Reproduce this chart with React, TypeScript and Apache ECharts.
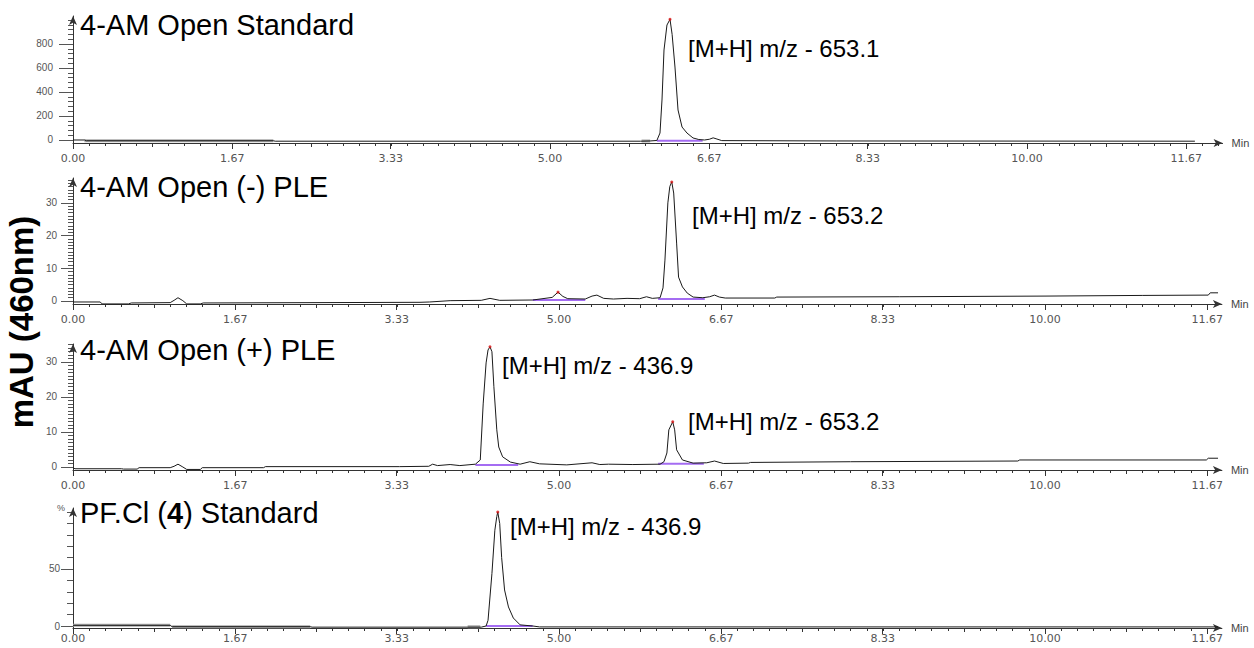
import React, { useEffect, useRef } from "react";
import * as echarts from "echarts";

// ---------------- data ----------------
const xTickLabels = ["0.00", "1.67", "3.33", "5.00", "6.67", "8.33", "10.00", "11.67"];
const xTickValues = xTickLabels.map(Number);

const p1YTicks = [0, 200, 400, 600, 800];
const p2YTicks = [0, 10, 20, 30];
const p3YTicks = [0, 10, 20, 30];
const p4YTicks = [0, 50];

const titles = ["4-AM Open Standard", "4-AM Open (-) PLE", "4-AM Open (+) PLE", "PF.Cl ({b|4}) Standard"];
const annotationTexts = [
  "[M+H] m/z - 653.1",
  "[M+H] m/z - 653.2",
  "[M+H] m/z - 436.9",
  "[M+H] m/z - 653.2",
  "[M+H] m/z - 436.9",
];
const yAxisTitle = "mAU (460nm)";

// traces: [time (min), signal]
const p1Trace: number[][] = [
  [0, 0], [0.12, 0], [0.14, -6], [2.1, -6], [2.12, -10], [5.95, -10], [6.05, -8], [6.12, -4],
  [6.153, 58], [6.174, 333], [6.195, 750], [6.226, 958], [6.258, 1005], [6.28, 880], [6.31, 608],
  [6.342, 250], [6.384, 108], [6.436, 58], [6.499, 17], [6.56, 4], [6.62, 0], [6.67, 6], [6.71, 18],
  [6.75, 8], [6.8, -5], [8.0, -8], [11.76, -10],
];
const p2Trace: number[][] = [
  [0, -0.3], [0.28, -0.3], [0.3, -0.9], [0.57, -0.9], [0.6, -0.6], [1.0, -0.5], [1.04, 0.2], [1.08, 1.0],
  [1.13, 0.1], [1.17, -0.9], [1.31, -0.9], [1.34, -0.6], [2.5, -0.5], [3.57, -0.4], [3.67, -0.3],
  [3.88, 0.1], [4.2, 0.2], [4.29, 0.8], [4.39, 0.2], [4.73, 0.3], [4.93, 1.1], [4.99, 2.7], [5.04, 1.4],
  [5.09, 0.7], [5.27, 0.6], [5.34, 1.5], [5.39, 1.8], [5.46, 0.8], [5.56, 0.6], [5.7, 0.8], [5.83, 0.7],
  [5.9, 1.3], [5.96, 0.8], [6.04, 1.0], [6.07, 4], [6.09, 12.5], [6.12, 30], [6.14, 35], [6.16, 36.4],
  [6.18, 33], [6.21, 17.7], [6.23, 7.3], [6.27, 4.3], [6.32, 2.4], [6.38, 1.2], [6.48, 1.0], [6.55, 1.3],
  [6.6, 1.8], [6.65, 1.2], [6.71, 0.9], [7.22, 0.9], [7.24, 1.2], [8.5, 1.3], [10.0, 1.5], [11.0, 1.7],
  [11.68, 1.8], [11.7, 2.5], [11.78, 2.5],
];
const p3Trace: number[][] = [
  [0, -0.2], [0.02, -0.5], [0.5, -0.5], [0.52, -0.6], [0.66, -0.6], [0.68, -0.2], [1.0, -0.2], [1.04, 0.2],
  [1.08, 0.8], [1.13, 0.0], [1.17, -0.7], [1.31, -0.7], [1.33, -0.2], [1.96, -0.2], [1.98, 0.1],
  [3.36, 0.1], [3.66, 0.2], [3.7, 0.8], [3.75, 0.4], [3.88, 0.7], [3.98, 0.4], [4.14, 0.8], [4.19, 2],
  [4.22, 18], [4.25, 29.7], [4.27, 33.4], [4.29, 34.3], [4.31, 32.9], [4.33, 22.9], [4.36, 10.6],
  [4.38, 5.7], [4.42, 2.9], [4.5, 1.4], [4.6, 0.8], [4.7, 1.5], [4.8, 0.9], [5.08, 0.6], [5.34, 1.2],
  [5.42, 0.7], [5.51, 0.8], [5.76, 0.7], [6.04, 0.8], [6.08, 1.5], [6.11, 4], [6.13, 10.6], [6.17, 12.9],
  [6.19, 10.6], [6.21, 4.9], [6.27, 2], [6.38, 1.1], [6.52, 1.2], [6.6, 1.7], [6.69, 1.0], [6.95, 1.1],
  [6.97, 1.3], [8.0, 1.5], [9.72, 1.7], [9.74, 2.0], [11.66, 2.0], [11.68, 2.5], [11.78, 2.5],
];
const p4Trace: number[][] = [
  [0, 0.6], [1.0, 0.6], [1.02, -0.6], [2.44, -0.6], [2.46, -1.0], [4.2, -1.0], [4.25, 0], [4.27, 5],
  [4.31, 46], [4.34, 84], [4.36, 96], [4.37, 100], [4.39, 90], [4.41, 60], [4.44, 31.6], [4.48, 16.7],
  [4.53, 7], [4.6, 1], [4.73, 0], [4.8, -0.8], [11.78, -0.8],
];

// peak apex markers
const p1Apex = [[6.258, 1005]];
const p2Apex = [[4.99, 2.7], [6.16, 36.4]];
const p3Apex = [[4.29, 34.3], [6.17, 12.9]];
const p4Apex = [[4.37, 100]];

// integration baselines [start, end, level]
const p1Integ = [[6.12, 6.6, -6]];
const p2Integ = [[4.73, 5.27, 0.3], [6.02, 6.5, 0.6]];
const p3Integ = [[4.14, 4.58, 0.6], [6.02, 6.49, 0.9]];
const p4Integ = [[4.25, 4.73, 0]];

// gray baseline bands [start, end, level]
const p1Gray = [[0.12, 2.1, -6], [5.96, 6.05, -8]];
const p2Gray: number[][] = [];
const p3Gray: number[][] = [];
const p4Gray = [[0, 1.0, 0.6], [1.02, 2.44, -0.6], [4.06, 4.19, -0.6]];

const panels = [
  { trace: p1Trace, apex: p1Apex, integ: p1Integ, gray: p1Gray, yTicks: p1YTicks },
  { trace: p2Trace, apex: p2Apex, integ: p2Integ, gray: p2Gray, yTicks: p2YTicks },
  { trace: p3Trace, apex: p3Apex, integ: p3Integ, gray: p3Gray, yTicks: p3YTicks },
  { trace: p4Trace, apex: p4Apex, integ: p4Integ, gray: p4Gray, yTicks: p4YTicks },
];

// ---------------- layout ----------------
const LEFT = 73;
const layout = [
  { top: 16, height: 127, xMax: 12.05, pxPerMin: 95.4, yMin: -25, yMax: 1033, yMinorStep: 40, yMinorTop: 1000, labelMargin: 20, majorTick: 14, minorTick: 5, titleY: 25, xLabelMargin: 10 },
  { top: 178, height: 126, xMax: 11.82, pxPerMin: 97.2, yMin: -0.92, yMax: 37.6, yMinorStep: 1, yMinorTop: 37, labelMargin: 16, majorTick: 12, minorTick: 5, titleY: 187, xLabelMargin: 10 },
  { top: 344, height: 126, xMax: 11.82, pxPerMin: 97.2, yMin: -0.86, yMax: 35.1, yMinorStep: 1, yMinorTop: 35, labelMargin: 16, majorTick: 12, minorTick: 5, titleY: 350, xLabelMargin: 10 },
  { top: 508, height: 120, xMax: 11.82, pxPerMin: 97.2, yMin: -1.75, yMax: 103.5, yMinorStep: 10, yMinorTop: 100, labelMargin: 13, majorTick: 12, minorTick: 6, titleY: 513, xLabelMargin: 5 },
];
const annotationPos = [
  { panel: 0, x: 688, y: 48 },
  { panel: 1, x: 692, y: 215 },
  { panel: 2, x: 502, y: 365 },
  { panel: 2, x: 688, y: 421 },
  { panel: 3, x: 510, y: 526 },
];

const FONT = "'Liberation Sans', Arial, sans-serif";
const NARROW = "'Liberation Sans Narrow', 'Liberation Sans', Arial, sans-serif";
const AXIS_COLOR = "#333";
const LABEL_COLOR = "#555";

function range(start: number, end: number, step: number): number[] {
  const out: number[] = [];
  const n = Math.floor((end - start) / step + 1e-9);
  for (let k = 0; k <= n; k++) out.push(Math.round((start + k * step) * 10000) / 10000);
  return out;
}

function buildOption() {
  const grid: any[] = [];
  const xAxis: any[] = [];
  const yAxis: any[] = [];
  const series: any[] = [];
  const graphic: any[] = [];

  panels.forEach((p, i) => {
    const L = layout[i];
    const width = L.xMax * L.pxPerMin;
    grid.push({ left: LEFT, top: L.top, width, height: L.height, containLabel: false, outerBoundsMode: "none" });

    const xi = xAxis.length;
    xAxis.push({
      type: "value", gridIndex: i, min: 0, max: L.xMax, position: "bottom",
      name: "Min", nameLocation: "end", nameGap: 9,
      nameTextStyle: { fontFamily: FONT, fontSize: 11, color: "#444" },
      axisLine: { show: true, onZero: false, symbol: ["none", "arrow"], symbolSize: [6, 9], lineStyle: { color: AXIS_COLOR, width: 1 } },
      axisTick: { show: true, customValues: xTickValues, length: 6, lineStyle: { color: AXIS_COLOR } },
      axisLabel: {
        show: true, customValues: xTickValues, margin: L.xLabelMargin,
        formatter: (v: number) => xTickLabels[xTickValues.indexOf(v)] ?? v.toFixed(2),
        fontFamily: "'DejaVu Sans', sans-serif", fontSize: 11, color: LABEL_COLOR,
      },
      splitLine: { show: false },
    });
    // minor x ticks
    xAxis.push({
      type: "value", gridIndex: i, min: 0, max: L.xMax, position: "bottom",
      axisLine: { show: false, onZero: false },
      axisTick: { show: true, customValues: range(0, L.xMax - 0.05, 1 / 6), length: 3, lineStyle: { color: AXIS_COLOR } },
      axisLabel: { show: false }, splitLine: { show: false },
    });
    // medium x ticks
    xAxis.push({
      type: "value", gridIndex: i, min: 0, max: L.xMax, position: "bottom",
      axisLine: { show: false, onZero: false },
      axisTick: { show: true, customValues: range(5 / 6, L.xMax - 0.05, 5 / 3), length: 4, lineStyle: { color: AXIS_COLOR } },
      axisLabel: { show: false }, splitLine: { show: false },
    });

    const yi = yAxis.length;
    yAxis.push({
      type: "value", gridIndex: i, min: L.yMin, max: L.yMax, position: "left",
      axisLine: { show: true, onZero: false, symbol: ["none", "arrow"], symbolSize: [6, 9], lineStyle: { color: AXIS_COLOR, width: 1 } },
      axisTick: { show: true, customValues: p.yTicks, length: L.majorTick, lineStyle: { color: "#555" } },
      axisLabel: { show: true, customValues: p.yTicks, margin: L.labelMargin, fontFamily: NARROW, fontSize: 10, color: LABEL_COLOR },
      splitLine: { show: false },
    });
    yAxis.push({
      type: "value", gridIndex: i, min: L.yMin, max: L.yMax, position: "left",
      axisLine: { show: false, onZero: false },
      axisTick: { show: true, customValues: range(0, L.yMinorTop, L.yMinorStep), length: L.minorTick, lineStyle: { color: "#555" } },
      axisLabel: { show: false }, splitLine: { show: false },
    });

    p.gray.forEach((g) => {
      series.push({
        type: "line", xAxisIndex: xi, yAxisIndex: yi, data: [[g[0], g[2]], [g[1], g[2]]],
        symbol: "none", silent: true, z: 1, lineStyle: { color: "#a8a8a8", width: 3 },
      });
    });
    p.integ.forEach((g) => {
      series.push({
        type: "line", xAxisIndex: xi, yAxisIndex: yi, data: [[g[0], g[2]], [g[1], g[2]]],
        symbol: "none", silent: true, z: 2, lineStyle: { color: "#a46cf2", width: 2 },
      });
    });
    series.push({
      type: "line", xAxisIndex: xi, yAxisIndex: yi, data: p.trace,
      symbol: "none", silent: true, z: 3, clip: false, lineStyle: { color: "#1a1a1a", width: 1 },
    });
    series.push({
      type: "scatter", xAxisIndex: xi, yAxisIndex: yi, data: p.apex,
      symbol: "circle", symbolSize: 3, silent: true, z: 4, itemStyle: { color: "#d81010" },
    });

    graphic.push({
      type: "text", x: 80, y: L.titleY,
      style: {
        text: titles[i], fontFamily: FONT, fontSize: 29, fill: "#000",
        align: "left", verticalAlign: "middle",
        rich: { b: { fontFamily: FONT, fontSize: 29, fontWeight: "bold", fill: "#000" } },
      },
    });
  });

  annotationPos.forEach((a, k) => {
    graphic.push({
      type: "text", x: a.x, y: a.y,
      style: { text: annotationTexts[k], fontFamily: FONT, fontSize: 24, fill: "#000", align: "left", verticalAlign: "middle" },
    });
  });

  graphic.push({
    type: "text", x: 21, y: 322, rotation: Math.PI / 2,
    style: { text: yAxisTitle, fontFamily: FONT, fontSize: 33, fontWeight: "bold", fill: "#000", align: "center", verticalAlign: "middle" },
  });
  graphic.push({
    type: "text", x: 57, y: 508,
    style: { text: "%", fontFamily: FONT, fontSize: 9, fill: "#555", align: "left", verticalAlign: "middle" },
  });

  return {
    animation: false,
    backgroundColor: "#fff",
    grid, xAxis, yAxis, series, graphic,
  };
}

export default function App() {
  const ref = useRef<HTMLDivElement>(null);
  useEffect(() => {
    if (!ref.current) return;
    const chart = echarts.init(ref.current, undefined, { renderer: "svg" });
    chart.setOption(buildOption() as any);
    return () => chart.dispose();
  }, []);
  return (
    <div
      ref={ref}
      style={{ position: "absolute", left: 0, top: 0, width: 1254, height: 648, background: "#fff" }}
    />
  );
}
